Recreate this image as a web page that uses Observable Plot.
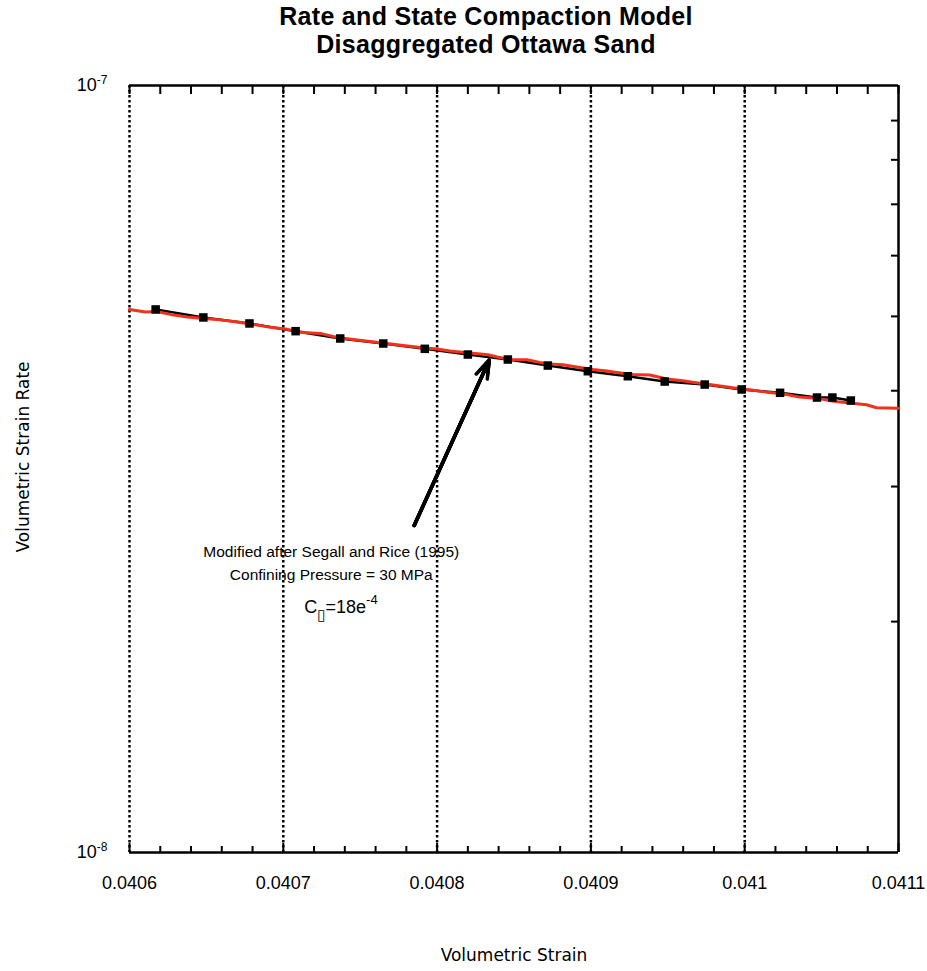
<!DOCTYPE html>
<html><head><meta charset="utf-8">
<script src="https://cdn.jsdelivr.net/npm/d3@7"></script>
<script src="https://cdn.jsdelivr.net/npm/@observablehq/plot@0.6"></script>
<style>
body{margin:0;background:#fff;width:927px;height:971px;overflow:hidden;position:relative}
#title{position:absolute;z-index:2;left:0;top:2px;width:972px;text-align:center;font-family:"Liberation Sans",Arial,sans-serif;font-weight:bold;font-size:25px;line-height:28px;letter-spacing:0.3px;color:#000}
#chart{position:absolute;z-index:1;left:0;top:0}
</style></head>
<body>
<div id="chart"></div>
<div id="title">Rate and State Compaction Model<br>Disaggregated Ottawa Sand</div>
<script>
// Model curve (red)
const modelStrain = [0.0406,0.0406104,0.0406175,0.0406266,0.0406377,0.0406481,0.0406591,0.0406701,0.0406805,0.0406916,0.0407026,0.040713,0.040724,0.0407351,0.0407455,0.0407565,0.0407675,0.0407779,0.040789,0.0408,0.0408084,0.0408195,0.0408331,0.040839,0.0408474,0.0408584,0.0408669,0.0408734,0.0408818,0.0408909,0.0409013,0.0409104,0.0409169,0.0409273,0.0409383,0.0409494,0.0409597,0.0409662,0.0409818,0.0409922,0.0410032,0.0410143,0.0410247,0.0410357,0.0410468,0.0410571,0.0410682,0.0410792,0.0410857,0.0411];
const modelRate = [5.105e-8,5.067e-8,5.075e-8,5.030e-8,4.992e-8,4.970e-8,4.948e-8,4.918e-8,4.881e-8,4.838e-8,4.809e-8,4.765e-8,4.751e-8,4.694e-8,4.666e-8,4.638e-8,4.610e-8,4.583e-8,4.555e-8,4.535e-8,4.508e-8,4.483e-8,4.457e-8,4.427e-8,4.394e-8,4.390e-8,4.355e-8,4.335e-8,4.325e-8,4.296e-8,4.264e-8,4.245e-8,4.226e-8,4.200e-8,4.194e-8,4.144e-8,4.122e-8,4.104e-8,4.064e-8,4.036e-8,4.012e-8,3.983e-8,3.964e-8,3.924e-8,3.912e-8,3.877e-8,3.854e-8,3.835e-8,3.801e-8,3.796e-8];
// Data (black squares)
const dataStrain = [0.040617,0.040648,0.040678,0.040708,0.040737,0.040765,0.040792,0.040820,0.040846,0.040872,0.040898,0.040924,0.040948,0.040974,0.040998,0.041023,0.041047,0.041057,0.041069];
const dataRate = [5.105e-8,4.984e-8,4.895e-8,4.783e-8,4.679e-8,4.609e-8,4.536e-8,4.459e-8,4.393e-8,4.314e-8,4.241e-8,4.178e-8,4.112e-8,4.075e-8,4.015e-8,3.975e-8,3.919e-8,3.919e-8,3.884e-8];
// Ticks
const xTickValues = [0.0406,0.0407,0.0408,0.0409,0.041,0.0411];
const xTickLabels = ["0.0406","0.0407","0.0408","0.0409","0.041","0.0411"];
const xMinorTicks = [0.04062,0.04064,0.04066,0.04068,0.04072,0.04074,0.04076,0.04078,0.04082,0.04084,0.04086,0.04088,0.04092,0.04094,0.04096,0.04098,0.04102,0.04104,0.04106,0.04108];
const xGrid = [0.0406,0.0407,0.0408,0.0409,0.041];
const yTickValues = [1e-8,1e-7];
const yTickExponents = ["-8","-7"];
const yMinorTicks = [2e-8,3e-8,4e-8,5e-8,6e-8,7e-8,8e-8,9e-8];
// Annotation
const noteLines = ["Modified after Segall and Rice (1995)","Confining Pressure = 30 MPa","C\u25AF=18e-4"];
const noteStrain = [0.0407312,0.0407312,0.0407375];
const noteRate = [2.461e-8,2.297e-8,2.086e-8];
const arrowFrom = [0.0407851, 2.669e-8];
const arrowTo = [0.0408338, 4.381e-8];
const xTitle = "Volumetric Strain";
const yTitle = "Volumetric Strain Rate";

const model = modelStrain.map((x,i)=>({x, y: modelRate[i]}));
const data = dataStrain.map((x,i)=>({x, y: dataRate[i]}));
const notes = noteLines.map((t,i)=>({t, x: noteStrain[i], y: noteRate[i]}));
const arrow = [{x1: arrowFrom[0], y1: arrowFrom[1], x2: arrowTo[0], y2: arrowTo[1]}];
const arrowOpts = {x1: "x1", y1: "y1", x2: "x2", y2: "y2", stroke: "black", strokeWidth: 3.5, headAngle: 38, strokeLinejoin: "miter"};

const chart = Plot.plot({
  width: 927, height: 971,
  marginTop: 85, marginBottom: 119, marginLeft: 129, marginRight: 29,
  style: {fontFamily: "'Liberation Sans', Arial, sans-serif", background: "transparent", color: "black"},
  x: {type: "linear", domain: [0.0406, 0.0411]},
  y: {type: "log", domain: [1e-8, 1e-7]},
  marks: [
    Plot.ruleX(xGrid, {stroke: "black", strokeWidth: 2.5, strokeDasharray: "2.5,2.5"}),
    Plot.ruleX([0.0411], {stroke: "black", strokeWidth: 2.5}),
    Plot.ruleY(yTickValues, {stroke: "black", strokeWidth: 2.5}),
    Plot.axisX({anchor: "bottom", ticks: xMinorTicks, tickSize: -6, strokeWidth: 2, tickFormat: () => ""}),
    Plot.axisX({anchor: "bottom", ticks: xTickValues, tickSize: -9, strokeWidth: 2, tickPadding: 33, fontSize: 18, tickFormat: d => xTickLabels[xTickValues.indexOf(d)]}),
    Plot.axisX({anchor: "top", ticks: xMinorTicks.concat(xTickValues), tickSize: -8, strokeWidth: 2, tickFormat: () => ""}),
    Plot.axisY({anchor: "right", ticks: yMinorTicks, tickSize: -8, strokeWidth: 2, tickFormat: () => ""}),
    Plot.axisY({anchor: "left", ticks: yTickValues, tickSize: 0, tickPadding: 22, fontSize: 18, tickFormat: d => "10^" + yTickExponents[yTickValues.indexOf(d)]}),
    Plot.line(data, {x: "x", y: "y", stroke: "black", strokeWidth: 2.5}),
    Plot.line(model, {x: "x", y: "y", stroke: "#f0321a", strokeWidth: 3}),
    Plot.dot(data, {x: "x", y: "y", symbol: "square", fill: "black", r: 4.8}),
    Plot.arrow(arrow, {...arrowOpts, headLength: 8}),
    Plot.arrow(arrow, {...arrowOpts, headLength: 6}),
    Plot.arrow(arrow, {...arrowOpts, headLength: 4}),
    Plot.arrow(arrow, {...arrowOpts, headLength: 2}),
    Plot.text(notes, {x: "x", y: "y", text: "t", fontSize: 15.5, fill: "black"}),
    Plot.text([xTitle], {frameAnchor: "bottom", dy: 103, lineAnchor: "middle", fontSize: 17, fontFamily: "'DejaVu Sans', sans-serif", fill: "black"}),
    Plot.text([yTitle], {frameAnchor: "left", dx: -106, dy: -12, rotate: -90, textAnchor: "middle", lineAnchor: "middle", fontSize: 17, fontFamily: "'DejaVu Sans', sans-serif", fill: "black"})
  ]
});

d3.select(chart).selectAll("text").each(function(){
  const t = this.textContent;
  const m = /^10\^(-?\d+)$/.exec(t);
  const sel = d3.select(this);
  if (m) {
    sel.text(null);
    sel.append("tspan").text("10");
    sel.append("tspan").attr("dy", "-7").attr("font-size", "12").text(m[1]);
  } else if (t === noteLines[2]) {
    sel.text(null);
    sel.attr("font-size", "18");
    sel.append("tspan").text("C");
    sel.append("tspan").attr("dy", "7").attr("font-size", "15").attr("fill", "black").attr("font-family", "'DejaVu Sans', sans-serif").text("\u25AF");
    sel.append("tspan").attr("dy", "-7").text("=18e");
    sel.append("tspan").attr("dy", "-9").attr("font-size", "13").text("-4");
  }
});
document.getElementById("chart").appendChild(chart);
</script>
</body></html>
